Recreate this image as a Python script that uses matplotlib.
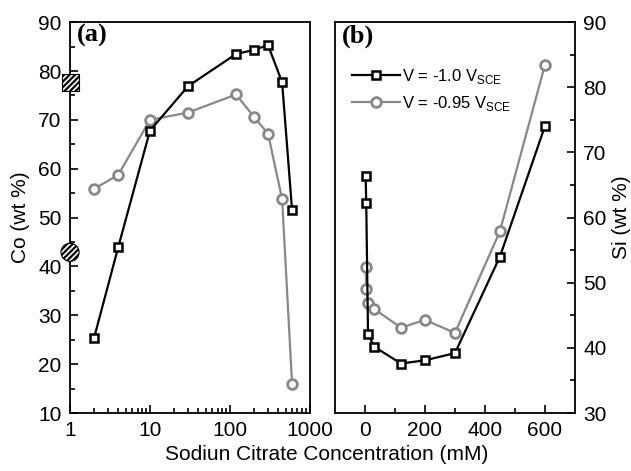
import numpy as np
import matplotlib as mpl
mpl.use('Agg')
import matplotlib.pyplot as plt

plt.rcParams['font.family'] = ['Liberation Sans', 'DejaVu Sans']
plt.rcParams['mathtext.fontset'] = 'custom'
plt.rcParams['mathtext.rm'] = 'Liberation Sans'
plt.rcParams['hatch.linewidth'] = 1.6

# (a) Co content vs. sodium citrate concentration (log axis)
conc_a = [2, 4, 10, 30, 120, 200, 300, 450, 600]
co_v100 = [25.4, 43.9, 67.8, 76.9, 83.5, 84.3, 85.3, 77.7, 51.5]
co_v095 = [55.9, 58.7, 70.0, 71.5, 75.2, 70.6, 67.2, 53.8, 15.9]
# reference markers drawn on the left axis (x = 1)
ref_co_square = 77.6
ref_co_circle = 42.9

# (b) Si content vs. sodium citrate concentration (linear axis)
conc_b = [2, 4, 10, 30, 120, 200, 300, 450, 600]
si_v100 = [66.4, 62.3, 42.2, 40.2, 37.6, 38.1, 39.2, 54.0, 74.0]
si_v095 = [52.4, 49.1, 46.9, 46.0, 43.1, 44.3, 42.3, 57.9, 83.4]

gray = '#888888'
fs = 15

fig = plt.figure(figsize=(6.31, 4.71), dpi=100)
axa = fig.add_axes([0.111, 0.123, 0.380, 0.830])
axb = fig.add_axes([0.531, 0.123, 0.380, 0.830])

# ---- panel (a)
axa.plot(conc_a, co_v095, '-o', color=gray, lw=1.6, ms=7, mfc='white', mec=gray, mew=2, zorder=3)
axa.plot(conc_a, co_v100, '-s', color='black', lw=1.6, ms=6, mfc='white', mec='black', mew=1.8, zorder=4)
axa.scatter([1], [ref_co_square], marker='s', s=150, facecolor='white', edgecolor='black',
            hatch='//////', linewidth=0.8, clip_on=False, zorder=6)
axa.scatter([1], [ref_co_circle], marker='o', s=170, facecolor='white', edgecolor='black',
            hatch='//////', linewidth=0.8, clip_on=False, zorder=6)
axa.set_xscale('log')
axa.set_xlim(1, 1000)
axa.set_ylim(10, 90)
axa.set_xticks([1, 10, 100, 1000])
axa.set_xticklabels(['1', '10', '100', '1000'])
axa.set_yticks(np.arange(10, 91, 10))
axa.set_yticks(np.arange(15, 90, 10), minor=True)
axa.set_ylabel('Co (wt %)', fontsize=fs, labelpad=6)
axa.tick_params(which='both', direction='in', top=False, right=False, labelsize=fs, width=1.2)
axa.tick_params(which='major', length=6, pad=6)
axa.tick_params(which='minor', length=3.5)
axa.text(0.03, 0.995, '(a)', transform=axa.transAxes, fontsize=19, fontweight='bold',
         family='Liberation Serif', va='top', ha='left')

# ---- panel (b)
axb.plot(conc_b, si_v100, '-s', color='black', lw=1.6, ms=6, mfc='white', mec='black', mew=1.8,
         zorder=4, label='V = -1.0 V$_{\\mathregular{SCE}}$')
axb.plot(conc_b, si_v095, '-o', color=gray, lw=1.6, ms=7, mfc='white', mec=gray, mew=2,
         zorder=3, label='V = -0.95 V$_{\\mathregular{SCE}}$')
axb.set_xlim(-100, 700)
axb.set_ylim(30, 90)
axb.set_xticks([0, 200, 400, 600])
axb.set_xticks([100, 300, 500], minor=True)
axb.set_yticks(np.arange(30, 91, 10))
axb.set_yticks(np.arange(35, 90, 10), minor=True)
axb.yaxis.tick_right()
axb.yaxis.set_label_position('right')
axb.set_ylabel('Si (wt %)', fontsize=fs, labelpad=4)
axb.tick_params(which='both', direction='in', top=False, left=False, labelsize=fs, width=1.2)
axb.tick_params(which='major', length=6, pad=6)
axb.tick_params(which='minor', length=3.5)
axb.text(0.03, 0.995, '(b)', transform=axb.transAxes, fontsize=19, fontweight='bold',
         family='Liberation Serif', va='top', ha='left')
axb.legend(loc='upper left', bbox_to_anchor=(0.02, 0.915), frameon=False, fontsize=12,
           handlelength=2.9, handletextpad=0.1, labelspacing=0.45, borderaxespad=0.3)

for ax in (axa, axb):
    for sp in ax.spines.values():
        sp.set_linewidth(1.3)

fig.text(0.517, 0.034, 'Sodiun Citrate Concentration (mM)', ha='center', va='center', fontsize=fs)

fig.savefig('out.png', dpi=100)
